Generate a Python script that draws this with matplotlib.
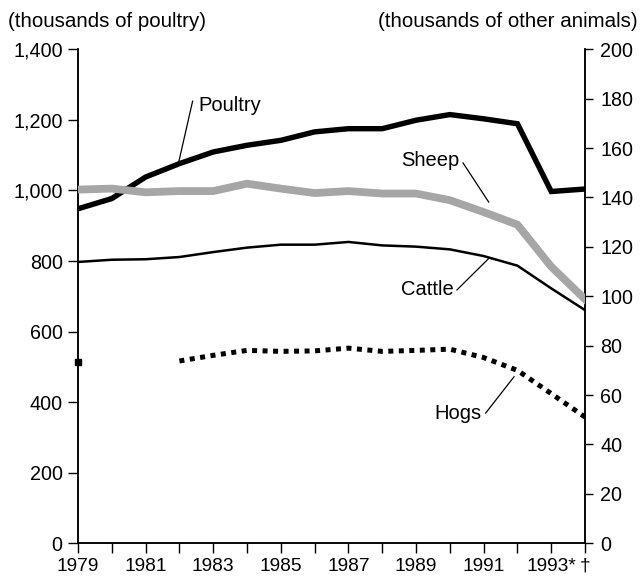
import numpy as np
import matplotlib
matplotlib.use('Agg')
import matplotlib.pyplot as plt
from matplotlib.ticker import FuncFormatter

plt.rcParams['font.family'] = ['Liberation Sans', 'DejaVu Sans']

# data
years = list(range(1979, 1995))
poultry = [948, 977, 1038, 1076, 1109, 1128, 1142, 1166, 1175, 1175, 1199, 1215, 1203, 1189, 997, 1004]
sheep = [143.2, 143.6, 142.1, 142.6, 142.6, 145.6, 143.6, 141.8, 142.6, 141.6, 141.6, 138.9, 134.1, 129.0, 112.0, 98.8]
cattle = [113.9, 114.8, 115.0, 115.9, 117.9, 119.7, 120.9, 120.9, 122.0, 120.6, 120.1, 119.0, 116.3, 112.4, 103.2, 94.4]
hogs = [73.4, np.nan, np.nan, 73.8, 76.1, 78.1, 77.7, 77.9, 79.0, 77.7, 78.1, 78.6, 75.2, 70.0, 60.6, 51.1]
xlabels = ['1979', '', '1981', '', '1983', '', '1985', '', '1987', '', '1989', '', '1991', '', '1993*', '\u2020']

fig = plt.figure(figsize=(6.41, 5.8), dpi=100)
ax = fig.add_axes([0.1217, 0.0633, 0.791, 0.8517])
ax2 = ax.twinx()

# left axis: poultry
ax.plot(years, poultry, color='black', lw=3.9, solid_joinstyle='miter', zorder=5)
ax.set_ylim(0, 1400)
ax.set_yticks(range(0, 1401, 200))
ax.yaxis.set_major_formatter(FuncFormatter(lambda v, p: f'{int(v):,}'))
ax.set_xlim(1979, 1994)
ax.set_xticks(years)
ax.set_xticklabels(xlabels)

# right axis: other animals
ax2.plot(years, sheep, color='#a6a6a6', lw=5.6, zorder=3)
ax2.plot(years, cattle, color='black', lw=1.8, zorder=4)
ax2.plot(years, hogs, color='black', lw=3.6, linestyle=(0, (1, 1.1)), zorder=4)
ax2.plot(years[:1], hogs[:1], 's', color='black', ms=4, clip_on=False)
ax2.set_ylim(0, 200)
ax2.set_yticks(range(0, 201, 20))

for a in (ax, ax2):
    a.spines['top'].set_visible(False)
    for s in ('left', 'right', 'bottom'):
        a.spines[s].set_linewidth(1.1)
ax.tick_params(axis='y', direction='out', length=7, width=1, pad=4, labelsize=14.2)
ax.tick_params(axis='x', direction='out', length=7.5, width=1, pad=3, labelsize=13.8)
ax2.tick_params(axis='y', direction='out', length=6, width=1, pad=5, labelsize=14.2)

# axis headings
fig.text(0.012, 0.963, '(thousands of poultry)', fontsize=14.8, ha='left', va='center')
fig.text(0.994, 0.963, '(thousands of other animals)', fontsize=14.8, ha='right', va='center')

# series labels with leader lines
ax.text(1982.55, 1240, 'Poultry', fontsize=14.5, ha='left', va='center')
ax.plot([1982.39, 1981.96], [1253, 1072], color='black', lw=0.9)
ax.text(1989.41, 1086, 'Sheep', fontsize=14.5, ha='center', va='center')
ax.plot([1990.39, 1991.15], [1078, 967], color='black', lw=0.9)
ax.text(1989.33, 718, 'Cattle', fontsize=14.5, ha='center', va='center')
ax.plot([1990.21, 1991.17], [718, 809], color='black', lw=0.9)
ax.text(1990.23, 369, 'Hogs', fontsize=14.5, ha='center', va='center')
ax.plot([1991.06, 1991.9], [369, 472], color='black', lw=0.9)

fig.savefig('out.png', dpi=100)
